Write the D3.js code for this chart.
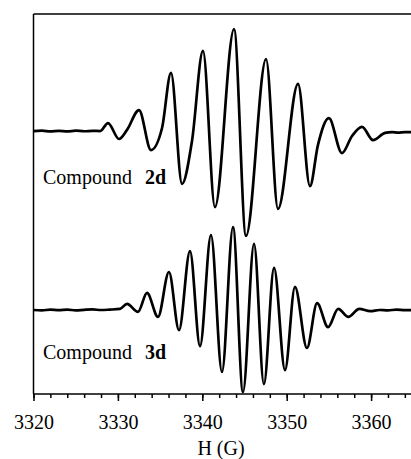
<!DOCTYPE html>
<html>
<head>
<meta charset="utf-8">
<script src="https://cdn.jsdelivr.net/npm/d3@7"></script>
<style>
  body { margin: 0; background: #fff; }
  svg { display: block; }
  svg text { font-family: "Times New Roman", "Liberation Serif", Times, "DejaVu Serif", serif !important; fill: #000; }
</style>
</head>
<body>
<svg id="canvas" width="411" height="459"></svg>
<script>
// field values (G) and signal (a.u., relative to each trace's baseline)
let field2d = [3320, 3321, 3322, 3323, 3324, 3325, 3326, 3327, 3327.9, 3328.83, 3330.13, 3331.08,
    3332.5, 3333.92, 3335.23, 3336.29, 3337.6, 3338.78, 3340.08, 3341.5, 3343.76, 3345.18,
    3347.55, 3348.97, 3351.34, 3352.76, 3353.7, 3355.0, 3356.55, 3357.74, 3358.92, 3360.23,
    3361.65, 3362.5, 3363.2, 3364, 3365]
let signal2d = [0, 0.1, -0.1, 0.05, -0.1, 0.1, -0.05, 0.05, 0, 2.1, -2.1, 0.3,
    5.5, -5.0, 0.8, 15.3, -13.9, -2.6, 21.1, -20.0, 26.8, -27.6,
    18.9, -20.5, 12.4, -14.5, -3.7, 3.4, -5.8, -1.3, 1.1, -2.4,
    -0.5, -0.3, -0.4, -0.3, -0.3]

let field3d = [3320, 3321, 3322, 3323, 3324, 3325, 3326, 3327, 3328, 3329, 3330.25, 3331.08,
    3332.38, 3333.45, 3334.75, 3336.05, 3337.24, 3338.54, 3339.73, 3341.03, 3342.33, 3343.64,
    3344.82, 3346.13, 3347.3, 3348.5, 3349.8, 3350.98, 3352.4, 3353.6, 3354.9, 3356.1,
    3357.3, 3358.6, 3359.9, 3361, 3362, 3363, 3364, 3365]
let signal3d = [0, -0.1, 0.1, -0.05, 0.1, -0.1, 0.05, 0.15, 0, 0.1, 0.3, 1.6,
    -0.5, 4.5, -1.8, 10.0, -5.3, 15.5, -9.5, 19.7, -16.3, 21.8,
    -21.6, 17.4, -19.5, 11.1, -15.8, 6.1, -10.0, 1.8, -4.5, 0.3,
    -1.8, 0.3, -0.3, 0, -0.1, 0.1, -0.05, 0]

let traces = [
    {name: '2d', offset: 69.2, field: field2d, signal: signal2d, labelY: 184},
    {name: '3d', offset: 22.1, field: field3d, signal: signal3d, labelY: 359}
]

let majorTicks = [3320, 3330, 3340, 3350, 3360]
let minorTicks = d3.range(3320, 3366, 2)

let serif = '"Times New Roman", "Liberation Serif", Times, serif'
let canvas = d3.select('#canvas')

let plotLeft = 33.5, plotTop = 14, plotBottom = 394
let xScale = d3.scaleLinear().domain([3320, 3365]).range([plotLeft, plotLeft + 45 * 8.44])
let yScale = d3.scaleLinear().domain([0, 100]).range([plotBottom, plotTop])

// frame: top line and left line
canvas.append('line')
    .attr('x1', plotLeft).attr('x2', 411).attr('y1', plotTop).attr('y2', plotTop)
    .attr('stroke', '#000').attr('stroke-width', 1.5)
canvas.append('line')
    .attr('x1', plotLeft).attr('x2', plotLeft).attr('y1', plotTop).attr('y2', plotBottom)
    .attr('stroke', '#000').attr('stroke-width', 1.5)

// bottom axis
let axisMinor = d3.axisBottom(xScale).tickValues(minorTicks).tickSize(4).tickFormat('')
canvas.append('g')
    .attr('transform', 'translate(0,' + plotBottom + ')')
    .call(axisMinor)
    .call(g => g.select('.domain').remove())
    .call(g => g.selectAll('line').attr('stroke', '#000').attr('stroke-width', 1.5))

let axisMajor = d3.axisBottom(xScale).tickValues(majorTicks).tickSize(7).tickPadding(14).tickFormat(d3.format('d'))
canvas.append('g')
    .attr('transform', 'translate(0,' + plotBottom + ')')
    .attr('font-family', serif)
    .call(axisMajor)
    .call(g => g.select('.domain').attr('d', 'M' + plotLeft + ',0H' + 420).attr('stroke', '#000').attr('stroke-width', 1.5))
    .call(g => g.selectAll('line').attr('stroke', '#000').attr('stroke-width', 1.5))
    .call(g => g.selectAll('text').attr('font-size', 20).attr('font-family', serif).attr('fill', '#000'))

canvas.append('text')
    .attr('x', 221).attr('y', 455)
    .attr('text-anchor', 'middle')
    .attr('font-family', serif)
    .attr('font-size', 20)
    .text('H (G)')

// spectra
let line = d3.line()
    .x(d => xScale(d[0]))
    .y(d => yScale(d[1]))
    .curve(d3.curveMonotoneX)

traces.forEach(t => {
    let pts = t.field.map((f, i) => [f, t.offset + t.signal[i]])
    canvas.append('path')
        .attr('d', line(pts))
        .attr('fill', 'none')
        .attr('stroke', '#000')
        .attr('stroke-width', 2.7)
        .attr('stroke-linejoin', 'round')

    let label = canvas.append('text')
        .attr('x', 43).attr('y', t.labelY)
        .attr('font-family', serif)
        .attr('font-size', 20)
    label.append('tspan').text('Compound')
    label.append('tspan').attr('x', 145).attr('font-weight', 'bold').text(t.name)
})
</script>
</body>
</html>
